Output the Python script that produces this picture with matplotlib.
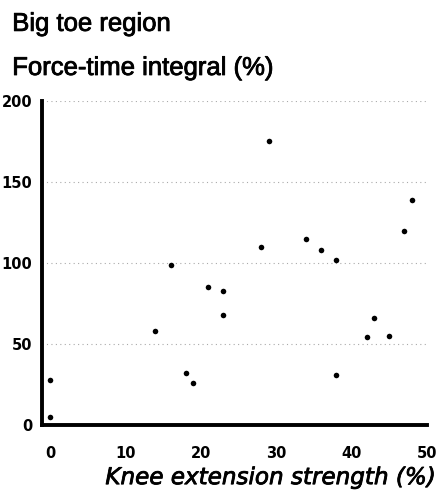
import matplotlib
matplotlib.use("Agg")
import matplotlib.pyplot as plt
import matplotlib.patheffects as pe
from matplotlib import font_manager

# knee extension strength (%) vs big toe force-time integral (%)
strength = [0, 0, 14, 16, 18, 19, 21, 23, 23, 28, 29, 34, 36, 38, 38, 42, 43, 45, 47, 48]
fti = [28, 5, 58, 99, 32, 26, 85, 83, 68, 110, 175, 115, 108, 102, 31, 54, 66, 55, 120, 139]

xticks = [0, 10, 20, 30, 40, 50]
yticks = [0, 50, 100, 150, 200]

names = {f.name for f in font_manager.fontManager.ttflist}
narrow = "Liberation Sans Narrow" if "Liberation Sans Narrow" in names else "DejaVu Sans"

fig = plt.figure(figsize=(4.36, 4.90), dpi=100)
ax = fig.add_axes([0.0963, 0.1327, 0.8827, 0.6613])

ax.scatter(strength, fti, s=16, color="black", zorder=3, linewidths=0)

ax.set_xlim(-1.06, 50)
ax.set_ylim(0, 200)
ax.set_xticks(xticks)
ax.set_yticks(yticks)
ax.tick_params(length=0, pad=7)
ax.tick_params(axis="x", pad=15)
for lab in ax.get_xticklabels() + ax.get_yticklabels():
    lab.set_fontfamily(narrow)
    lab.set_fontweight("bold")
    lab.set_fontsize(10.5)

ax.yaxis.grid(True, linestyle=(0, (1, 3)), color="#aaaaaa", linewidth=0.8)
ax.set_axisbelow(True)

for side in ["top", "right"]:
    ax.spines[side].set_visible(False)
for side in ["left", "bottom"]:
    ax.spines[side].set_linewidth(2.8)

thick = [pe.withStroke(linewidth=0.6, foreground="black")]
fig.text(0.028, 0.937, "Big toe region", fontsize=18.5, fontfamily="Liberation Sans",
         va="baseline", ha="left", path_effects=thick)
fig.text(0.028, 0.847, "Force-time integral (%)", fontsize=18.5, fontfamily="Liberation Sans",
         va="baseline", ha="left", path_effects=thick)
fig.text(0.998, 0.012, "Knee extension strength (%)", fontsize=16.6, fontfamily="DejaVu Sans",
         style="oblique", va="baseline", ha="right", path_effects=thick)

fig.savefig("out.png", dpi=100)
